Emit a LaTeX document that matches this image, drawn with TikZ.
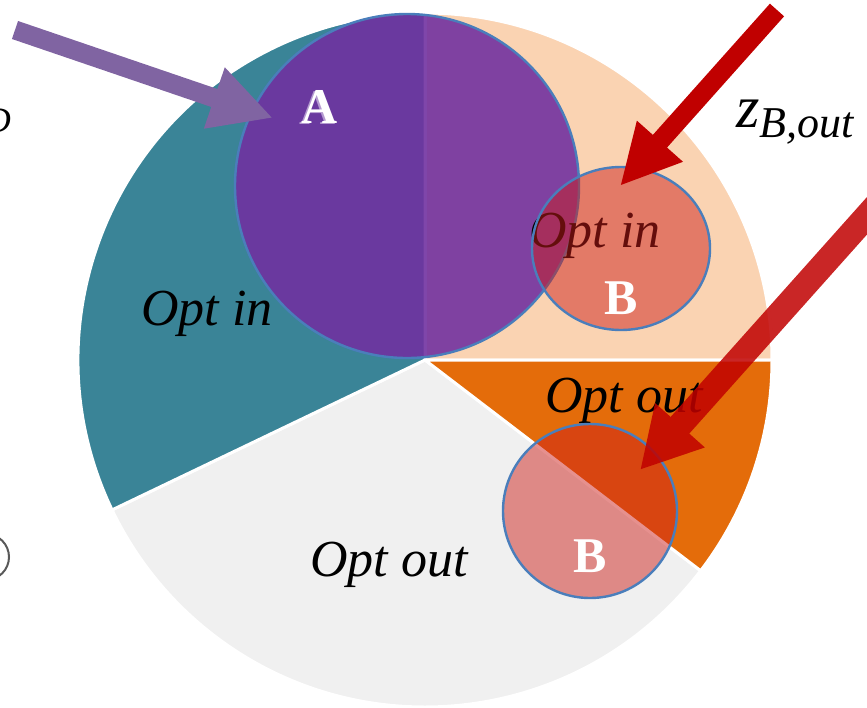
\documentclass[tikz,border=0pt]{standalone}
\usepackage{fontspec}
\setmainfont{Liberation Serif}
\usetikzlibrary{arrows.meta}
\definecolor{pieTeal}{HTML}{3A8497}
\definecolor{piePeach}{HTML}{FAD3B2}
\definecolor{pieGrey}{HTML}{F0F0F0}
\definecolor{pieOrange}{HTML}{E46C0A}
\definecolor{setA}{HTML}{7030A0}
\definecolor{setB}{HTML}{CD1E19}
\definecolor{rimBlue}{HTML}{4A7EBB}
\definecolor{arrPurple}{HTML}{8064A2}
\definecolor{arrRed}{HTML}{C00000}
\definecolor{shadowA}{HTML}{B49AD0}
\begin{document}
\begin{tikzpicture}[x=1pt,y=-1pt,
  slice/.style={draw=white, line width=3pt, line join=round},
  setcircle/.style={draw=rimBlue, line width=2.4pt},
  optlbl/.style={font=\fontsize{52}{60}\selectfont\itshape, inner sep=0pt, anchor=base},
  setlbl/.style={font=\fontsize{50}{60}\selectfont\bfseries, text=white, inner sep=0pt, anchor=base},
  blockarrow/.style={line width=#1, line cap=butt},
]
\useasboundingbox (0,0) rectangle (867,707);

% pie centre and radius
\coordinate (O) at (425,360);
\def\R{347}

% pie slices (image angles, clockwise from the right)
\path[slice, fill=piePeach] (O) -- ++(-90:\R) arc[start angle=-90, end angle=0, radius=\R] -- cycle;
\path[slice, fill=pieGrey] (O) -- ++(37.4:\R) arc[start angle=37.4, end angle=154.4, radius=\R] -- cycle;
\path[slice, fill=pieTeal] (O) -- ++(154.4:\R) arc[start angle=154.4, end angle=270, radius=\R] -- cycle;
\begin{scope}[shift={(3,2)}]
  \path[slice, fill=pieOrange] (O) -- ++(0:\R) arc[start angle=0, end angle=37.4, radius=\R] -- cycle;
\end{scope}

% set A
\path[setcircle, fill=setA, fill opacity=0.89] (407,186) circle[radius=172];

% slice labels
\node[optlbl] (inA) at (207,325) {Opt in};
\node[optlbl] (inB) at (595,247) {Opt in};
\node[optlbl] (outB) at (624,412) {Opt out};
\node[optlbl] (outA) at (389,576) {Opt out};

% set B, twice
\path[setcircle, fill=setB, fill opacity=0.49] (621,248.5) ellipse[x radius=89, y radius=81.5];
\path[setcircle, fill=setB, fill opacity=0.49] (590,511) circle[radius=87];

% set letters
\node[setlbl, text=shadowA] at (318,124) {A};
\node[setlbl] (lblA) at (320,123) {A};
\node[setlbl] (lblB1) at (621,314) {B};
\node[setlbl] (lblB2) at (590,572) {B};

% side labels
\node[inner sep=0pt, anchor=base west] (zout) at (736,127)
  {{\fontsize{60}{64}\selectfont\itshape z}{\fontsize{44}{48}\selectfont\itshape\raisebox{-10pt}{B,out}}};
\node[inner sep=0pt, anchor=base east, font=\fontsize{36}{40}\selectfont\itshape] (zin) at (11,132) {D};
\node[draw=black!65, line width=2pt, circle, minimum size=46pt, inner sep=0pt] (mark) at (-14,557) {};

% arrows
\coordinate (pA0) at (15,30);
\coordinate (pA1) at (273,118);
\coordinate (rB0) at (777,10);
\coordinate (rB1) at (620,186);
\coordinate (rC0) at (890,190);
\coordinate (rC1) at (640,470);

\draw[blockarrow=19pt, arrPurple, -{Triangle[length=62pt, width=60pt]}] (pA0) -- (pA1);
\draw[blockarrow=19pt, arrRed, -{Triangle[length=60pt, width=57pt]}] (rB0) -- (rB1);
\begin{scope}[transparency group, opacity=0.85]
  \draw[blockarrow=25pt, arrRed, -{Triangle[length=60pt, width=62pt]}] (rC0) -- (rC1);
\end{scope}
\end{tikzpicture}
\end{document}
